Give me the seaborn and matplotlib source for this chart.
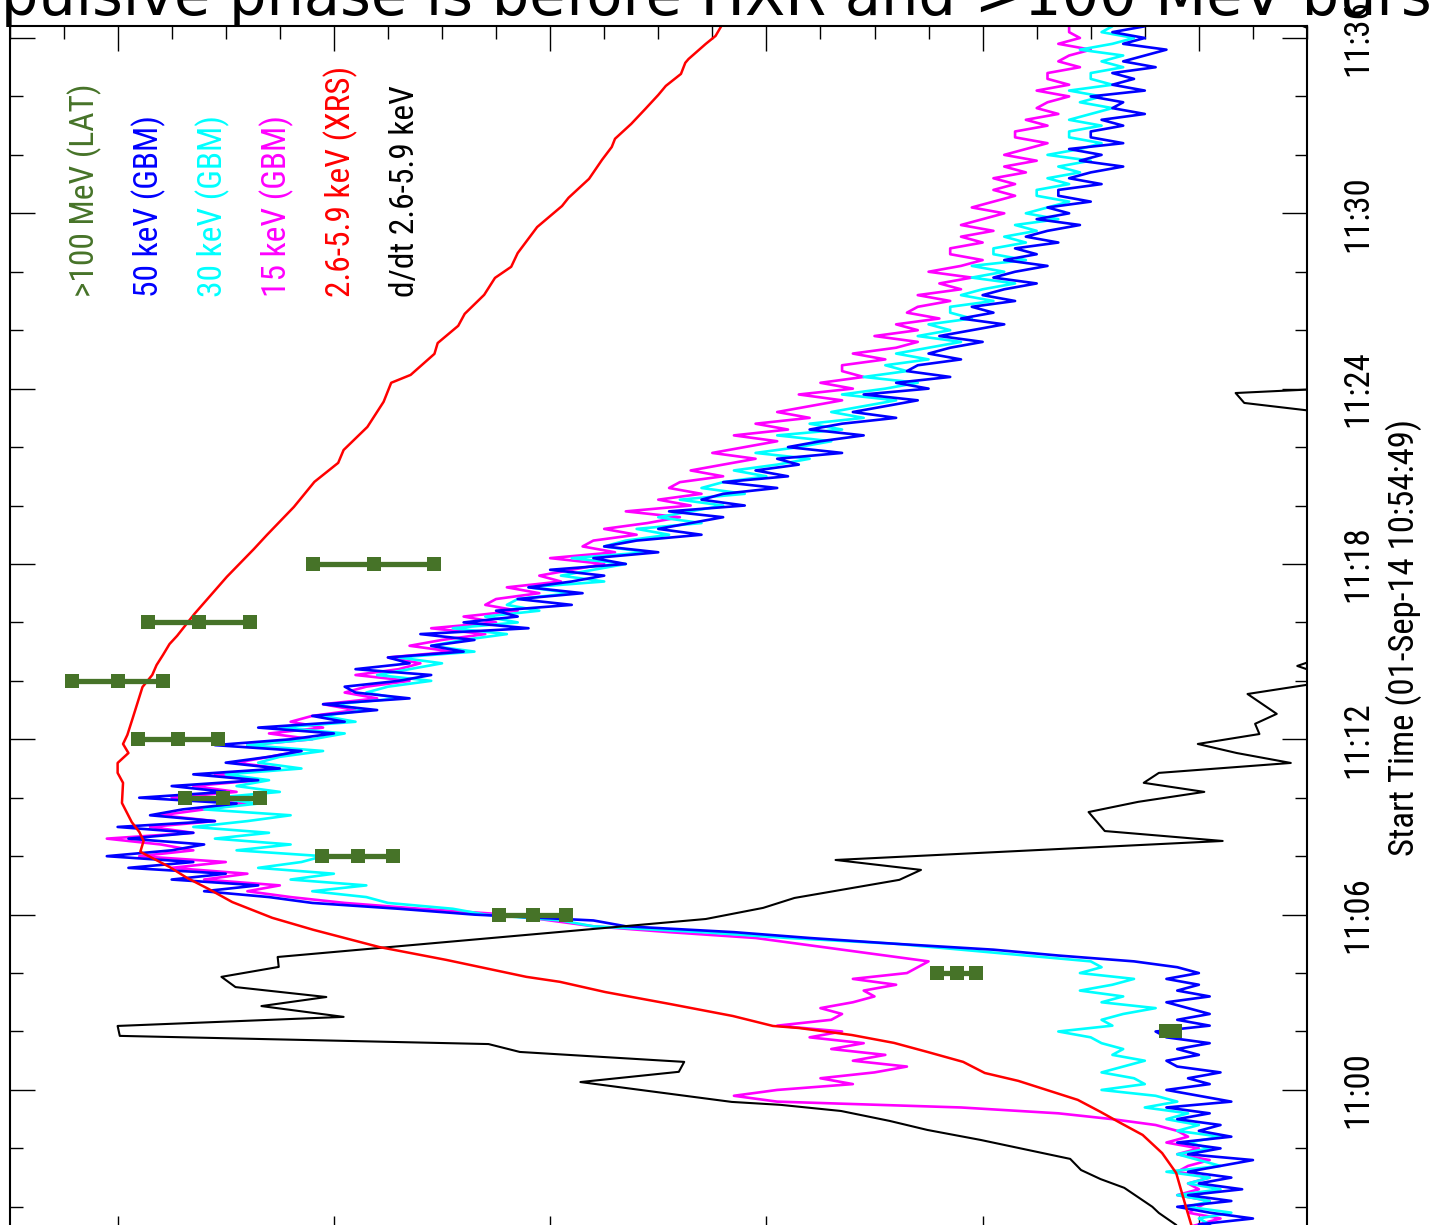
import numpy as np
import pandas as pd
import matplotlib
matplotlib.use("Agg")
import matplotlib.pyplot as plt
import seaborn as sns
from matplotlib.ticker import MultipleLocator, FuncFormatter

# ---------------------------------------------------------------------------
# Data (time in minutes after 11:00 UT, intensities normalised to peak = 1)
# ---------------------------------------------------------------------------
T_START = -(5 + 11 / 60)      # 10:54:49
T_END = 36.41

# GBM light curves, sampled every 0.2 min from GBM_T0
GBM_T0 = -5.2
GBM_DT = 0.2
gbm_50kev = [
    -0.02, 0.01, -0.04, 0.00, -0.05, -0.01, 0.02, -0.03, 0.01, -0.04,
    0.00, -0.03, 0.01, -0.02, -0.05, 0.01, -0.02, 0.02, -0.03, 0.00,
    -0.02, 0.02, -0.01, 0.03, -0.03, 0.00, 0.03, -0.01, 0.01, -0.02,
    0.02, 0.03, 0.00, 0.02, -0.01, 0.03, 0.04, -0.01, 0.02, -0.01,
    0.01, 0.03, -0.01, 0.02, 0.00, 0.03, 0.00, 0.02, 0.06, 0.13,
    0.19, 0.28, 0.36, 0.43, 0.53, 0.56, 0.67, 0.74, 0.82, 0.86,
    0.92, 0.87, 0.95, 0.90, 0.99, 0.93, 1.01, 0.95, 0.92, 0.99,
    0.93, 1.00, 0.91, 0.97, 0.94, 0.89, 0.98, 0.90, 0.95, 0.87,
    0.93, 0.85, 0.90, 0.86, 0.83, 0.91, 0.84, 0.80, 0.87, 0.79,
    0.82, 0.76, 0.81, 0.73, 0.78, 0.79, 0.74, 0.71, 0.78, 0.73,
    0.75, 0.68, 0.71, 0.67, 0.72, 0.62, 0.68, 0.63, 0.65, 0.58,
    0.63, 0.57, 0.62, 0.58, 0.55, 0.60, 0.53, 0.56, 0.50, 0.55,
    0.52, 0.46, 0.50, 0.47, 0.44, 0.49, 0.42, 0.46, 0.44, 0.39,
    0.44, 0.38, 0.41, 0.37, 0.39, 0.33, 0.38, 0.35, 0.31, 0.36,
    0.33, 0.28, 0.32, 0.29, 0.26, 0.31, 0.25, 0.28, 0.23, 0.27,
    0.26, 0.22, 0.25, 0.23, 0.20, 0.24, 0.21, 0.18, 0.22, 0.19,
    0.21, 0.17, 0.20, 0.18, 0.15, 0.19, 0.17, 0.14, 0.18, 0.15,
    0.17, 0.13, 0.16, 0.14, 0.11, 0.15, 0.12, 0.14, 0.10, 0.13,
    0.13, 0.09, 0.12, 0.10, 0.07, 0.11, 0.09, 0.12, 0.07, 0.10,
    0.10, 0.07, 0.09, 0.05, 0.08, 0.07, 0.10, 0.05, 0.08, 0.06,
    0.08, 0.04, 0.07, 0.05, 0.03, 0.07, 0.05, 0.08, 0.05,
]
gbm_30kev = [
    0.01, -0.02, 0.02, -0.01, 0.00, -0.03, 0.01, -0.01, 0.02, -0.02,
    0.01, -0.01, 0.03, -0.02, 0.00, 0.02, -0.01, 0.01, -0.02, 0.02,
    0.00, 0.03, 0.01, 0.05, 0.02, 0.04, 0.09, 0.05, 0.06, 0.09,
    0.07, 0.05, 0.08, 0.07, 0.09, 0.10, 0.13, 0.08, 0.09, 0.07,
    0.04, 0.09, 0.07, 0.11, 0.08, 0.06, 0.11, 0.09, 0.10, 0.16,
    0.22, 0.28, 0.38, 0.46, 0.56, 0.59, 0.66, 0.69, 0.75, 0.77,
    0.82, 0.77, 0.84, 0.80, 0.87, 0.83, 0.81, 0.89, 0.84, 0.91,
    0.86, 0.93, 0.88, 0.84, 0.92, 0.87, 0.91, 0.85, 0.89, 0.86,
    0.90, 0.83, 0.87, 0.85, 0.81, 0.88, 0.82, 0.79, 0.85, 0.78,
    0.81, 0.77, 0.80, 0.74, 0.77, 0.75, 0.71, 0.76, 0.73, 0.70,
    0.74, 0.67, 0.71, 0.68, 0.64, 0.69, 0.63, 0.66, 0.61, 0.64,
    0.63, 0.58, 0.62, 0.55, 0.59, 0.56, 0.53, 0.58, 0.51, 0.55,
    0.53, 0.49, 0.52, 0.46, 0.50, 0.47, 0.44, 0.48, 0.42, 0.46,
    0.44, 0.40, 0.43, 0.39, 0.36, 0.41, 0.37, 0.34, 0.39, 0.33,
    0.36, 0.31, 0.34, 0.31, 0.28, 0.33, 0.29, 0.26, 0.31, 0.27,
    0.29, 0.25, 0.28, 0.25, 0.22, 0.26, 0.23, 0.25, 0.21, 0.23,
    0.23, 0.19, 0.22, 0.20, 0.17, 0.21, 0.18, 0.21, 0.16, 0.19,
    0.19, 0.16, 0.18, 0.15, 0.17, 0.13, 0.16, 0.14, 0.12, 0.15,
    0.15, 0.12, 0.14, 0.11, 0.13, 0.10, 0.14, 0.11, 0.09, 0.12,
    0.12, 0.09, 0.12, 0.10, 0.08, 0.11, 0.09, 0.12, 0.08, 0.10,
    0.10, 0.07, 0.09, 0.07, 0.11, 0.08, 0.06, 0.09, 0.08,
]
gbm_15kev = [
    0.00, -0.01, 0.02, 0.00, -0.02, 0.01, 0.00, -0.01, 0.02, 0.00,
    0.01, -0.01, 0.02, 0.01, -0.01, 0.02, 0.00, 0.03, 0.01, 0.02,
    0.04, 0.08, 0.13, 0.22, 0.39, 0.43, 0.39, 0.32, 0.35, 0.30,
    0.27, 0.32, 0.29, 0.34, 0.31, 0.36, 0.33, 0.39, 0.34, 0.33,
    0.35, 0.32, 0.30, 0.31, 0.28, 0.32, 0.27, 0.26, 0.25, 0.29,
    0.33, 0.37, 0.41, 0.49, 0.56, 0.60, 0.64, 0.72, 0.79, 0.84,
    0.88, 0.85, 0.92, 0.88, 0.95, 0.90, 0.98, 0.93, 0.96, 1.01,
    0.93, 0.97, 0.91, 0.96, 0.92, 0.88, 0.95, 0.89, 0.93, 0.87,
    0.91, 0.85, 0.89, 0.86, 0.83, 0.88, 0.82, 0.86, 0.81, 0.84,
    0.82, 0.78, 0.81, 0.76, 0.79, 0.77, 0.73, 0.78, 0.74, 0.72,
    0.75, 0.69, 0.73, 0.70, 0.66, 0.71, 0.65, 0.68, 0.63, 0.66,
    0.65, 0.61, 0.64, 0.59, 0.61, 0.58, 0.55, 0.60, 0.54, 0.57,
    0.56, 0.52, 0.55, 0.51, 0.48, 0.53, 0.47, 0.50, 0.46, 0.49,
    0.48, 0.44, 0.47, 0.44, 0.41, 0.45, 0.42, 0.39, 0.43, 0.38,
    0.41, 0.36, 0.39, 0.36, 0.33, 0.37, 0.32, 0.35, 0.31, 0.33,
    0.33, 0.29, 0.32, 0.28, 0.26, 0.30, 0.26, 0.28, 0.24, 0.27,
    0.26, 0.23, 0.26, 0.22, 0.24, 0.21, 0.25, 0.22, 0.20, 0.23,
    0.23, 0.20, 0.22, 0.19, 0.22, 0.20, 0.18, 0.21, 0.19, 0.17,
    0.19, 0.17, 0.19, 0.16, 0.18, 0.15, 0.18, 0.16, 0.14, 0.17,
    0.17, 0.14, 0.16, 0.13, 0.15, 0.14, 0.12, 0.15, 0.12, 0.14,
    0.14, 0.11, 0.13, 0.12, 0.10, 0.13, 0.11, 0.12, 0.12,
]

# GOES XRS 2.6-5.9 keV
xrs_t = [-5.13, -4.62, -4.00, -2.84, -2.16, -1.54, -1.10, -0.75, -0.34, 0.31,
         0.58, 0.96, 1.30, 1.61, 1.88, 2.12, 2.19, 2.53, 2.94, 3.35,
         3.70, 3.87, 4.45, 4.89, 5.48, 5.89, 6.43, 6.88, 7.26, 7.63,
         8.15, 8.52, 8.83, 9.17, 9.82, 10.51, 10.85, 11.19, 11.53, 11.84,
         12.15, 12.73, 13.79, 14.20, 14.54, 14.89, 15.26, 15.54, 16.29, 17.56,
         18.51, 18.99, 19.95, 20.81, 21.46, 21.90, 22.69, 23.55, 24.20, 24.47,
         25.19, 25.56, 26.15, 26.56, 27.21, 27.79, 28.17, 28.64, 29.53, 30.25,
         30.53, 31.18, 31.83, 32.27, 32.55, 33.06, 33.57, 34.05, 34.36, 34.77,
         35.15, 35.28, 35.80, 36.07, 36.45, 36.80]
xrs_flux = [0.004, 0.007, 0.012, 0.021, 0.034, 0.052, 0.074, 0.091, 0.112, 0.167,
            0.198, 0.218, 0.251, 0.282, 0.321, 0.370, 0.394, 0.431, 0.489, 0.549,
            0.591, 0.622, 0.696, 0.758, 0.819, 0.857, 0.894, 0.916, 0.936, 0.952,
            0.979, 0.976, 0.980, 0.987, 0.996, 0.995, 1.000, 1.000, 0.990, 0.995,
            0.991, 0.986, 0.977, 0.968, 0.964, 0.958, 0.952, 0.945, 0.929, 0.899,
            0.874, 0.862, 0.837, 0.818, 0.796, 0.791, 0.769, 0.754, 0.747, 0.729,
            0.707, 0.704, 0.685, 0.679, 0.661, 0.651, 0.636, 0.630, 0.612, 0.589,
            0.583, 0.564, 0.552, 0.543, 0.540, 0.525, 0.512, 0.500, 0.493, 0.479,
            0.475, 0.472, 0.456, 0.447, 0.441, 0.430]

# time derivative of the XRS 2.6-5.9 keV flux
ddt_t = [-5.07, -4.62, -4.21, -4.00, -3.35, -3.05, -2.74, -2.36, -1.71, -1.37,
         -1.06, -0.72, -0.51, -0.41, 0.27, 0.62, 0.96, 1.30, 1.57, 1.85,
         2.19, 2.50, 2.87, 3.18, 3.52, 3.87, 4.21, 4.55, 5.85, 6.23,
         6.57, 7.19, 7.53, 7.87, 8.52, 8.86, 9.51, 9.86, 10.20, 10.51,
         10.85, 11.19, 11.53, 11.84, 12.18, 12.53, 12.87, 13.55, 14.03, 14.51,
         14.99, 16.00, 18.00, 20.00, 22.00, 23.17, 23.51, 23.85, 24.02, 25.50,
         28.00, 31.00, 34.00, 35.60, 36.80]
ddt_flux = [0.014, 0.021, 0.037, 0.043, 0.069, 0.091, 0.109, 0.119, 0.202, 0.251,
            0.286, 0.331, 0.387, 0.432, 0.572, 0.481, 0.476, 0.628, 0.657, 0.998,
            1.000, 0.791, 0.867, 0.807, 0.891, 0.904, 0.851, 0.852, 0.456, 0.403,
            0.374, 0.277, 0.257, 0.336, -0.022, 0.087, 0.102, 0.056, -0.005, 0.051,
            0.037, -0.085, -0.035, 0.001, -0.056, -0.052, -0.072, -0.045, -0.129, -0.091,
            -0.129, -0.160, -0.180, -0.150, -0.170, -0.120, -0.042, -0.034, -0.130, -0.170,
            -0.150, -0.180, -0.160, -0.150, -0.070]

# Fermi LAT >100 MeV
lat_t = [2, 4, 6, 8, 10, 12, 14, 16, 18]
lat_flux = [0.026, 0.224, 0.616, 0.778, 0.903, 0.944, 1.000, 0.925, 0.763]
lat_err = [0.004, 0.018, 0.031, 0.033, 0.035, 0.037, 0.042, 0.047, 0.056]

legend_labels = [">100 MeV (LAT)", "50 keV (GBM)", "30 keV (GBM)",
                 "15 keV (GBM)", "2.6-5.9 keV (XRS)", "d/dt 2.6-5.9 keV"]
title_text = "Impulsive phase is before HXR and >100 MeV burst"
time_label = "Start Time (01-Sep-14 10:54:49)"

# ---------------------------------------------------------------------------
C_LAT = "#467328"
C_50 = "#0000ff"
C_30 = "#00ffff"
C_15 = "#ff00ff"
C_XRS = "#ff0000"
C_DDT = "#000000"
legend_colors = [C_LAT, C_50, C_30, C_15, C_XRS, C_DDT]

sns.set_style("white")
NARROW = ["Liberation Sans Narrow", "Roboto Condensed", "DejaVu Sans"]
plt.rcParams["font.family"] = NARROW
for key in ("text.color", "axes.labelcolor", "xtick.color", "ytick.color"):
    plt.rcParams[key] = "black"

W, H = 1433, 1225
fig = plt.figure(figsize=(W / 100, H / 100), dpi=100)

# axes box in pixels (left, right, top, bottom)
px_l, px_r, px_t, px_b = 9.5, 1307.0, 26.0, 1241.4
ax = fig.add_axes([px_l / W, (H - px_b) / H, (px_r - px_l) / W, (px_b - px_t) / H])

n = len(gbm_50kev)
gbm = pd.DataFrame({
    "t": GBM_T0 + GBM_DT * np.arange(n),
    "c50": gbm_50kev, "c30": gbm_30kev, "c15": gbm_15kev,
})
xrs = pd.DataFrame({"t": xrs_t, "flux": xrs_flux})
ddt = pd.DataFrame({"t": ddt_t, "flux": ddt_flux})
lat = pd.DataFrame({"t": lat_t, "flux": lat_flux, "err": lat_err})

common = dict(orient="y", sort=False, estimator=None, ax=ax, legend=False)
sns.lineplot(data=gbm, x="c15", y="t", color=C_15, lw=1.9, **common)
sns.lineplot(data=gbm, x="c30", y="t", color=C_30, lw=1.9, **common)
sns.lineplot(data=gbm, x="c50", y="t", color=C_50, lw=1.9, **common)
sns.lineplot(data=ddt, x="flux", y="t", color=C_DDT, lw=1.5, **common)
sns.lineplot(data=xrs, x="flux", y="t", color=C_XRS, lw=1.8, **common)

ax.errorbar(lat["flux"], lat["t"], xerr=lat["err"], fmt="none",
            ecolor=C_LAT, elinewidth=3.8, capsize=0, zorder=5)
for col in (lat["flux"] - lat["err"], lat["flux"], lat["flux"] + lat["err"]):
    sns.scatterplot(x=col, y=lat["t"], marker="s", s=100, color=C_LAT,
                    edgecolor=C_LAT, linewidth=0, ax=ax, zorder=6, legend=False)

ax.set_xlim(1.1, -0.1)
ax.set_ylim(T_START, T_END)
ax.set_xlabel("")
ax.set_ylabel("")

# time axis (vertical)
ax.yaxis.set_major_locator(MultipleLocator(6))
ax.yaxis.set_minor_locator(MultipleLocator(2))
ax.yaxis.set_major_formatter(FuncFormatter(lambda v, p: f"11:{int(round(v)):02d}"))
# intensity axis (horizontal)
ax.xaxis.set_major_locator(MultipleLocator(0.2))
ax.xaxis.set_minor_locator(MultipleLocator(0.05))

ax.tick_params(axis="both", which="both", direction="in", top=True, bottom=True,
               left=True, right=True, color="black", width=1.0)
ax.tick_params(axis="both", which="major", length=18)
ax.tick_params(axis="both", which="minor", length=9)
ax.tick_params(axis="x", labelbottom=False, labeltop=False)
ax.tick_params(axis="y", labelleft=False, labelright=True, pad=25)
fig.canvas.draw()
for tick in ax.yaxis.get_major_ticks():
    tick.label2.set_rotation(90)
    tick.label2.set_fontfamily(NARROW)
    tick.label2.set_fontsize(25)
    tick.label2.set_color("black")
    tick.label2.set_verticalalignment("center")
    tick.label2.set_horizontalalignment("left")

for sp in ax.spines.values():
    sp.set_visible(True)
    sp.set_color("black")
    sp.set_linewidth(1.5)

fig.text(1404 / W, 1 - 637 / H, time_label, rotation=90, ha="center", va="center",
         fontsize=25, family=NARROW, color="black")

# legend written as coloured labels
for i, (txt, col) in enumerate(zip(legend_labels, legend_colors)):
    fig.text((94 + 64.0 * i) / W, 1 - 297 / H, txt, rotation=90,
             rotation_mode="anchor", ha="left", va="baseline",
             color=col, fontsize=24, family=NARROW)

fig.text(690 / W, 1 - 15 / H, title_text, ha="center", va="baseline",
         fontsize=42.5, family="DejaVu Sans", color="black")

fig.savefig("out.png", dpi=100)
